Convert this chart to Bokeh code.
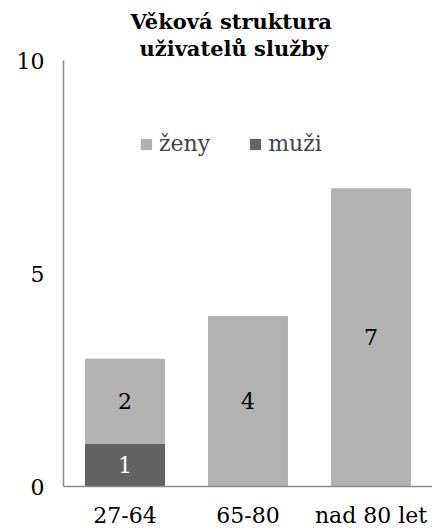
from bokeh.plotting import figure
from bokeh.models import ColumnDataSource, Legend, LegendItem, Title, LabelSet, FixedTicker
from bokeh.embed import file_html
from bokeh.resources import INLINE
from bokeh.core.properties import value

categories = ["27-64", "65-80", "nad 80 let"]
muzi = [1, 0, 0]
zeny = [2, 4, 7]
yticks = [0, 5, 10]
title_lines = ["Věková struktura", "uživatelů služby"]
title_offsets = [67, 76]

FONT = "DejaVu Serif"
LIGHT = "#b2b2b2"
DARK = "#636363"

p = figure(x_range=categories, y_range=(0, 10), width=432, height=530,
           output_backend="svg", toolbar_location=None,
           min_border_left=63, min_border_right=0, min_border_top=60, min_border_bottom=44)
p.title = None
for line, off in reversed(list(zip(title_lines, title_offsets))):
    t = Title(text=line, align="left", text_font=FONT, text_font_size="21px",
              text_font_style="bold", text_color="#000000", standoff=0, offset=off)
    p.add_layout(t, "above")

data = dict(cat=categories, muzi=muzi, zeny=zeny,
            muzi_mid=[m / 2 for m in muzi],
            zeny_mid=[m + z / 2 for m, z in zip(muzi, zeny)],
            muzi_lbl=[str(m) if m else "" for m in muzi],
            zeny_lbl=[str(z) if z else "" for z in zeny])
src = ColumnDataSource(data)

r = p.vbar_stack(["muzi", "zeny"], x="cat", width=0.65, color=[DARK, LIGHT],
                 source=src, line_color=None)

p.add_layout(LabelSet(x="cat", y="muzi_mid", text="muzi_lbl", source=src,
                      text_align="center", text_baseline="middle",
                      text_font=value(FONT), text_font_size="22px", text_color="white"))
p.add_layout(LabelSet(x="cat", y="zeny_mid", text="zeny_lbl", source=src,
                      text_align="center", text_baseline="middle",
                      text_font=value(FONT), text_font_size="22px", text_color="black"))

legend = Legend(items=[LegendItem(label="ženy", renderers=[r[1]]),
                       LegendItem(label="muži", renderers=[r[0]])],
                orientation="horizontal", location=(76, 330),
                label_text_font=FONT, label_text_font_size="22px",
                glyph_width=14, glyph_height=14, label_standoff=6, spacing=38,
                padding=0, margin=0, border_line_color=None, background_fill_alpha=0)
p.add_layout(legend, "center")

p.xgrid.grid_line_color = None
p.ygrid.grid_line_color = None
p.outline_line_color = None
p.x_range.range_padding = 0

for ax in (p.xaxis, p.yaxis):
    ax.axis_line_color = "#8c8c8c"
    ax.axis_line_width = 1.5
    ax.major_tick_line_color = None
    ax.minor_tick_line_color = None
    ax.major_label_text_font = FONT
    ax.major_label_text_font_size = "22px"
    ax.major_label_text_color = "#000000"

p.yaxis.ticker = FixedTicker(ticks=yticks)
p.yaxis.major_label_standoff = 13
p.xaxis.major_label_standoff = 10

open("out.html", "w").write(file_html(p, INLINE))
